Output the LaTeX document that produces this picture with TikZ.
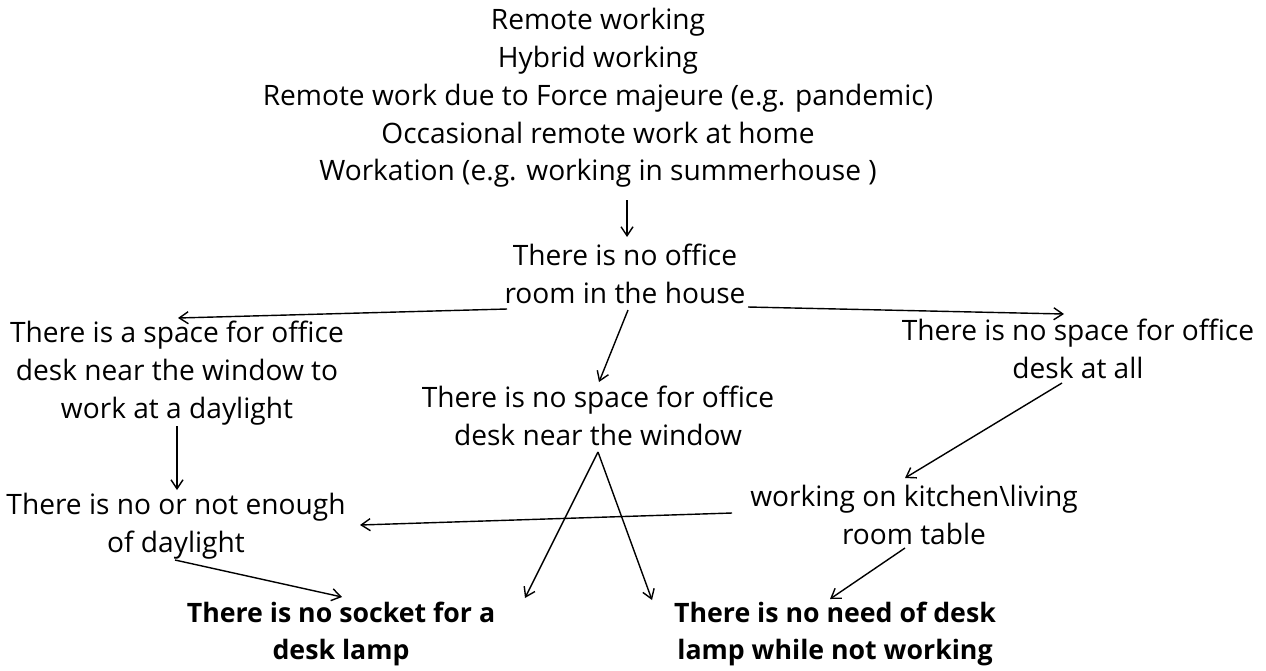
\documentclass[tikz,border=0pt]{standalone}
\usepackage{fontspec}
\setmainfont{Open Sans}
\usetikzlibrary{calc,arrows.meta}
\tikzset{
  txt/.style={align=center, inner sep=0pt, font=\fontsize{16}{21.5}\selectfont},
  bold/.style={txt, font=\fontsize{15.2}{21.5}\selectfont\bfseries},
  arr/.style={-{Straight Barb[length=1.8mm,width=2.4mm]}, line width=0.8pt}
}
\begin{document}
\begin{tikzpicture}[x=0.02cm, y=-0.02cm]
  \useasboundingbox (0,0) rectangle (1266,670);
  % situations
  \node[txt] (modes) at (598,98) {Remote working\\Hybrid working\\Remote work due to Force majeure (e.g. pandemic)\\Occasional remote work at home\\Workation (e.g. working in summerhouse )};
  \node[txt] (office) at (625,274) {There is no office\\room in the house};
  \node[txt] (window) at (177,373) {There is a space for office\\desk near the window to\\work at a daylight};
  \node[txt] (nowindow) at (598,416) {There is no space for office\\desk near the window};
  \node[txt] (noroom) at (1078,349) {There is no space for office\\desk at all};
  \node[txt] (daylight) at (176,526) {There is no or not enough\\of daylight};
  \node[txt] (kitchen) at (914,515) {working on kitchen\textbackslash living\\room table};
  % results
  \node[bold] (socket) at (341,634) {There is no socket for a\\desk lamp};
  \node[bold] (lamp) at (835,634) {There is no need of desk\\lamp while not working};
  % arrows
  \draw[arr] ($(modes.center)+(29,102)$) -- ($(office.center)+(2,-37)$);
  \draw[arr] ($(office.center)+(-118,35)$) -- ($(window.center)+(1,-55)$);
  \draw[arr] ($(office.center)+(123,33)$) -- ($(noroom.center)+(-14,-35)$);
  \draw[arr] ($(office.center)+(3,36)$) -- ($(nowindow.center)+(1,-34)$);
  \draw[arr] ($(window.center)+(0,53)$) -- ($(daylight.center)+(1,-36)$);
  \draw[arr] ($(noroom.center)+(-16,34)$) -- ($(kitchen.center)+(-9,-37)$);
  \draw[arr] ($(kitchen.center)+(-182,-2)$) -- ($(daylight.center)+(184,-1)$);
  \draw[arr] ($(daylight.center)+(-1,34)$) -- ($(socket.center)+(1,-37)$);
  \draw[arr] ($(nowindow.center)+(0,36)$) -- ($(socket.center)+(184,-36)$);
  \draw[arr] ($(nowindow.center)+(0,36)$) -- ($(lamp.center)+(-183,-34)$);
  \draw[arr] ($(kitchen.center)+(-9,33)$) -- ($(lamp.center)+(-5,-35)$);
\end{tikzpicture}
\end{document}
